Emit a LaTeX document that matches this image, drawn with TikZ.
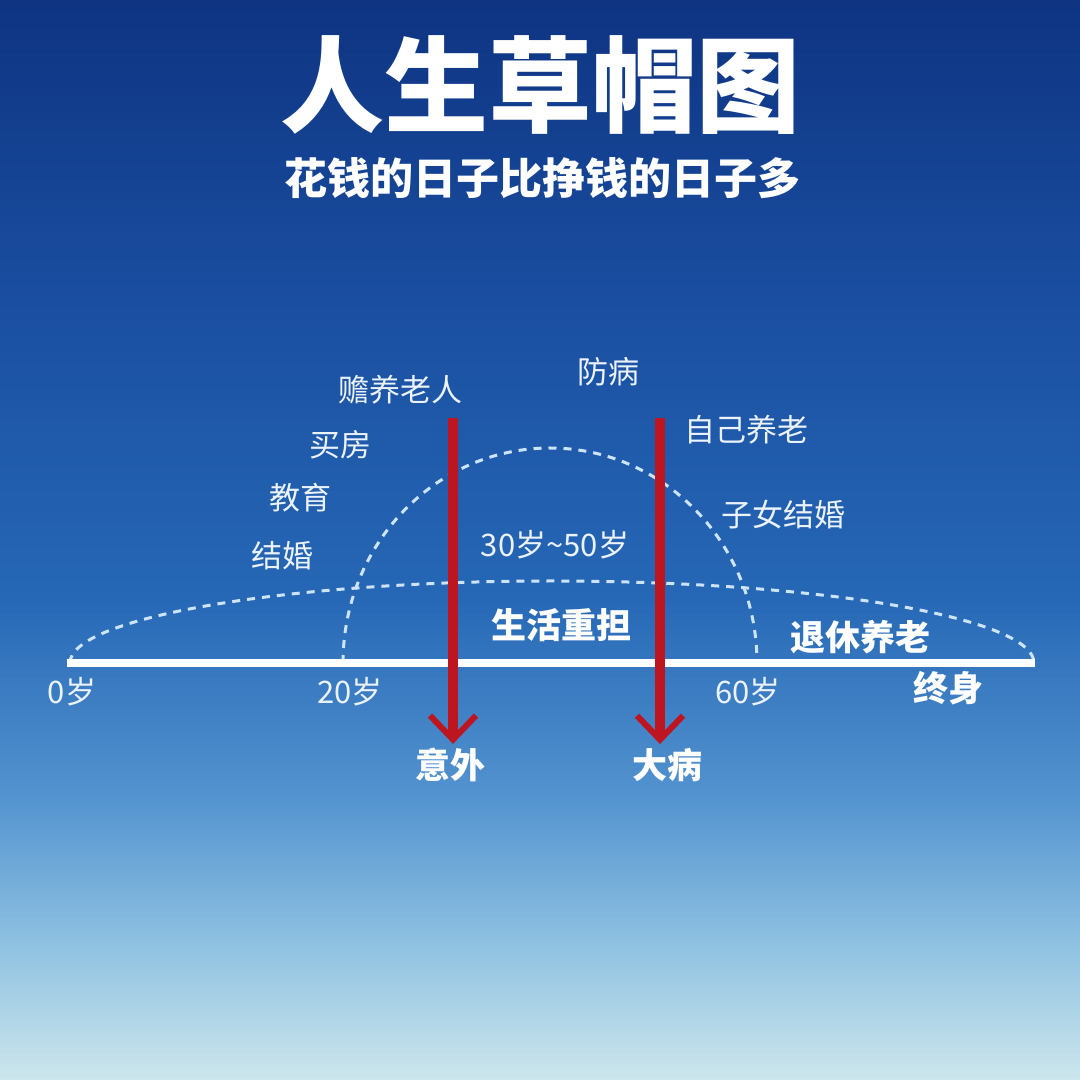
\documentclass[tikz,border=0pt]{standalone}
\usepackage{fontspec}
\setmainfont{Noto Sans CJK SC}
\usetikzlibrary{arrows.meta}
\definecolor{skyA}{RGB}{14,52,130}
\definecolor{skyB}{RGB}{26,78,160}
\definecolor{skyC}{RGB}{38,104,182}
\definecolor{skyD}{RGB}{84,148,208}
\definecolor{skyE}{RGB}{145,195,226}
\definecolor{skyF}{RGB}{205,230,236}
\definecolor{dashcol}{RGB}{205,228,248}
\definecolor{labcol}{RGB}{235,242,250}
\definecolor{arrowred}{RGB}{190,22,32}
\begin{document}
\begin{tikzpicture}[x=1pt,y=1pt,
  lab/.style={text=labcol,inner sep=0pt,font=\fontsize{31}{31}\selectfont},
  blab/.style={text=white,inner sep=0pt,font=\bfseries\fontsize{35}{35}\selectfont},
  dome/.style={draw=dashcol,line width=3pt,dash pattern=on 8pt off 7pt},
  redarrow/.style={draw=arrowred,line width=10pt,-{Straight Barb[length=24pt,width=46pt,line width=6pt]},shorten >=4pt}]
% background
\shade[top color=skyA,bottom color=skyB] (0,780) rectangle (1080,1080);
\shade[top color=skyB,bottom color=skyC] (0,480) rectangle (1080,780.5);
\shade[top color=skyC,bottom color=skyD] (0,280) rectangle (1080,480.5);
\shade[top color=skyD,bottom color=skyE] (0,130) rectangle (1080,280.5);
\shade[top color=skyE,bottom color=skyF] (0,0) rectangle (1080,130.5);
\useasboundingbox (0,0) rectangle (1080,1080);
% title
\node[text=white,inner sep=0pt,font=\bfseries\fontsize{104}{104}\selectfont] (title) at (540,995) {人生草帽图};
\node[text=white,inner sep=0pt,font=\bfseries\fontsize{43}{43}\selectfont] (subtitle) at (542,902) {花钱的日子比挣钱的日子多};
% dashed domes
\draw[dome] (70,417) arc[start angle=180,end angle=0,x radius=482,y radius=82];
\draw[dome] (343,417) arc[start angle=180,end angle=0,x radius=207,y radius=215];
% baseline
\coordinate (lineL) at (67,417);
\coordinate (lineR) at (1035,417);
\draw[white,line width=8pt] (lineL) -- (lineR);
% labels
\node[lab] (shanyang) at (400,690) {赡养老人};
\node[lab] (fangbing) at (608,708) {防病};
\node[lab] (ziji) at (746,650) {自己养老};
\node[lab] (maifang) at (340,635) {买房};
\node[lab] (jiaoyu) at (300,582) {教育};
\node[lab] (zinv) at (783,565) {子女结婚};
\node[lab] (jiehun) at (282,524) {结婚};
\node[lab] (age3050) at (555,535) {30岁\textasciitilde50岁};
\node[blab] (shenghuo) at (561,455) {生活重担};
\node[blab] (tuixiu) at (860,443) {退休养老};
\node[lab] (a0) at (72,388) {0岁};
\node[lab] (a20) at (350,388) {20岁};
\node[lab] (a60) at (748,388) {60岁};
\node[blab] (zhongshen) at (948,392) {终身};
\node[blab] (yiwai) at (450,315) {意外};
\node[blab] (dabing) at (667,315) {大病};
% red arrows
\coordinate (topL) at (453,662);
\coordinate (topR) at (660,662);
\draw[redarrow] (topL) -- (topL |- yiwai.north);
\draw[redarrow] (topR) -- (topR |- dabing.north);
\end{tikzpicture}
\end{document}
